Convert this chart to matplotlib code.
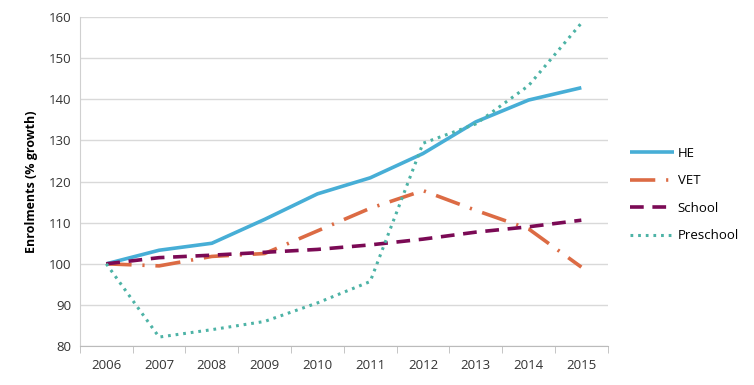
import matplotlib
matplotlib.use("Agg")
import matplotlib.pyplot as plt
import numpy as np

years = ["2006", "2007", "2008", "2009", "2010", "2011", "2012", "2013", "2014", "2015"]
he = [100, 103.3, 105, 110.8, 117, 120.9, 126.8, 134.5, 139.8, 142.8]
vet = [100, 99.5, 101.8, 102.5, 108, 113.5, 117.8, 113, 108.5, 99.2]
school = [100, 101.5, 102.1, 102.8, 103.5, 104.6, 106, 107.7, 109, 110.6]
preschool = [100, 82.2, 84, 86, 90.5, 95.7, 129.3, 134, 143.3, 158.5]

plt.rcParams['font.family'] = ['Open Sans', 'DejaVu Sans']

fig = plt.figure(figsize=(7.54, 3.85), dpi=100)
ax = fig.add_axes([0.106, 0.101, 0.700, 0.855])
x = np.arange(len(years))

ax.plot(x, he, color='#47AED6', lw=2.6, label='HE', solid_capstyle='butt')
ax.plot(x, vet, color='#DC6B44', lw=2.6, dashes=(7, 3, 0.6, 3), label='VET')
ax.plot(x, school, color='#7B0A55', lw=2.6, dashes=(3.8, 2.4), label='School')
ax.plot(x, preschool, color='#4DB3A6', lw=2.2, dashes=(0.9, 1.6), label='Preschool')

ax.set_xlim(-0.5, 9.5)
ax.set_ylim(80, 160)
ax.set_yticks(np.arange(80, 161, 10))
ax.set_xticks(x)
ax.set_xticklabels(years)
ax.set_xticks(np.arange(-0.5, 10, 1), minor=True)
ax.tick_params(axis='x', which='major', length=0, pad=9, labelsize=9.5, colors='#333333')
ax.tick_params(axis='x', which='minor', length=5, color='#BBBBBB')
ax.tick_params(axis='y', length=0, pad=6, labelsize=9.5, colors='#333333')
ax.grid(axis='y', color='#D9D9D9', lw=1)
ax.set_axisbelow(True)
for s in ['top', 'right']:
    ax.spines[s].set_visible(False)
ax.spines['left'].set_color('#D0D0D0')
ax.spines['bottom'].set_color('#BBBBBB')
ax.set_ylabel('Enrolments (% growth)', fontsize=9, fontweight='bold', labelpad=8)

leg = ax.legend(loc='center left', bbox_to_anchor=(1.02, 0.46), frameon=False,
                fontsize=9.5, handlelength=3.3, labelspacing=1.1, handletextpad=0.3)

fig.savefig('out.png', dpi=100)
